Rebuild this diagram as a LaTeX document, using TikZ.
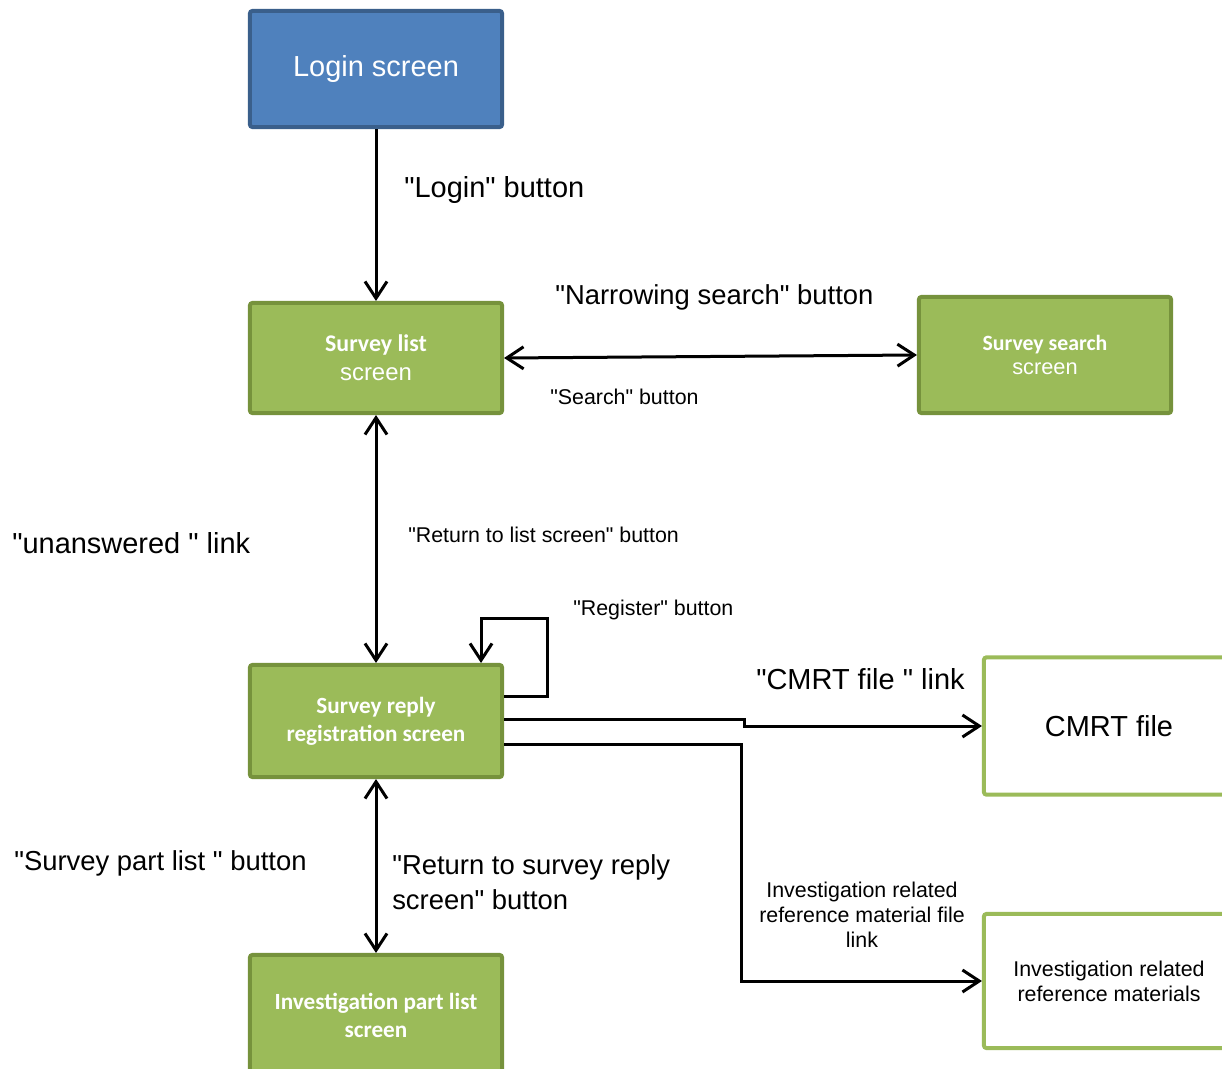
\documentclass[tikz,border=0pt]{standalone}
\usepackage{fontspec}
\setmainfont{Liberation Sans}
\newfontfamily\calibri{Carlito}
\usepackage{xcolor}
\usetikzlibrary{arrows.meta}
\definecolor{loginfill}{HTML}{4F81BD}
\definecolor{logindraw}{HTML}{3A5F8B}
\definecolor{greenfill}{HTML}{9BBB59}
\definecolor{greendraw}{HTML}{76923C}
\newcommand{\bigtext}{\fontsize{20.6}{24}\selectfont}
\newcommand{\midtext}{\fontsize{19.5}{24.8}\selectfont}
\newcommand{\smalltext}{\fontsize{15.2}{17.7}\selectfont}
\newcommand{\qq}{\textquotedbl}
\tikzset{barb/.tip={Straight Barb[length=0.42cm,width=0.55cm]}}

\begin{document}
\begin{tikzpicture}[x=0.025cm, y=-0.025cm,
  loginbox/.style={draw=logindraw, fill=loginfill, line width=0.1cm, rounded corners=0.06cm,
    minimum width=6.3cm, minimum height=2.9cm, text=white, font=\bigtext},
  screenbox/.style={draw=greendraw, fill=greenfill, line width=0.1cm, rounded corners=0.06cm,
    minimum width=6.3cm, text=white, align=center},
  filebox/.style={draw=greenfill, fill=white, line width=0.1cm, rounded corners=0.06cm,
    minimum width=6.25cm, align=center},
  lbl/.style={anchor=west, inner sep=0pt},
  arr/.style={line width=0.075cm, -barb},
  dblarr/.style={line width=0.075cm, barb-barb}]
\useasboundingbox (0,0) rectangle (1222,1069);
\clip (0,0) rectangle (1222,1069);

\node[loginbox] (login) at (376,69) {Login screen};
\node[screenbox, minimum height=2.75cm, font=\fontsize{17}{20.6}\selectfont] (list) at (376,358)
  {{\calibri\bfseries Survey list}\\screen};
\node[screenbox, minimum height=2.9cm, font=\fontsize{15.5}{17.7}\selectfont] (search) at (1045,355)
  {{\calibri\bfseries Survey search}\\screen};
\node[screenbox, minimum height=2.8cm, font=\calibri\bfseries\fontsize{16.5}{19.8}\selectfont] (reply) at (376,721)
  {Survey reply\\registration screen};
\node[screenbox, minimum height=3cm, font=\calibri\bfseries\fontsize{16.5}{19.8}\selectfont] (part) at (376,1015)
  {Investigation part list\\screen};
\node[filebox, minimum height=3.43cm, font=\bigtext] (cmrt) at (1109,726) {CMRT file};
\node[filebox, minimum height=3.35cm, font=\smalltext] (refmat) at (1109,981)
  {Investigation related\\reference materials};

\coordinate (loop) at (547,618);

\draw[arr] (login.south) -- (list.north);
\draw[dblarr] (list.east) -- (search.west);
\draw[dblarr] (list.south) -- (reply.north);
\draw[arr] ([yshift=0.6cm]reply.east) -| (loop) -| ([xshift=2.625cm]reply.north);
\draw[arr] ([yshift=0.05cm]reply.east) -- ++(240,0) |- (cmrt.west);
\draw[arr] ([yshift=-0.575cm]reply.east) -- ++(237,0) |- (refmat.west);
\draw[dblarr] (reply.south) -- (part.north);

\node[lbl, font=\bigtext] (loginlbl) at (404,190) {\qq Login\qq{} button};
\node[lbl, font=\midtext] (narrowlbl) at (555,297) {\qq Narrowing search\qq{} button};
\node[lbl, font=\smalltext] (searchlbl) at (550,397) {\qq Search\qq{} button};
\node[lbl, font=\bigtext] (unanswlbl) at (12,543) {\qq unanswered \qq{} link};
\node[lbl, font=\smalltext] (returnlbl) at (408,535) {\qq Return to list screen\qq{} button};
\node[lbl, font=\smalltext] (reglbl) at (573,610) {\qq Register\qq{} button};
\node[lbl, font=\bigtext] (cmrtlbl) at (756,679) {\qq CMRT file \qq{} link};
\node[align=center, inner sep=0pt, font=\smalltext] (reflbl) at (862,915)
  {Investigation related\\reference material file\\link};
\node[lbl, font=\midtext] (partlbl) at (14,863) {\qq Survey part list \qq{} button};
\node[lbl, align=left, font=\midtext] (backlbl) at (392,882) {\qq Return to survey reply\\screen\qq{} button};
\end{tikzpicture}
\end{document}
